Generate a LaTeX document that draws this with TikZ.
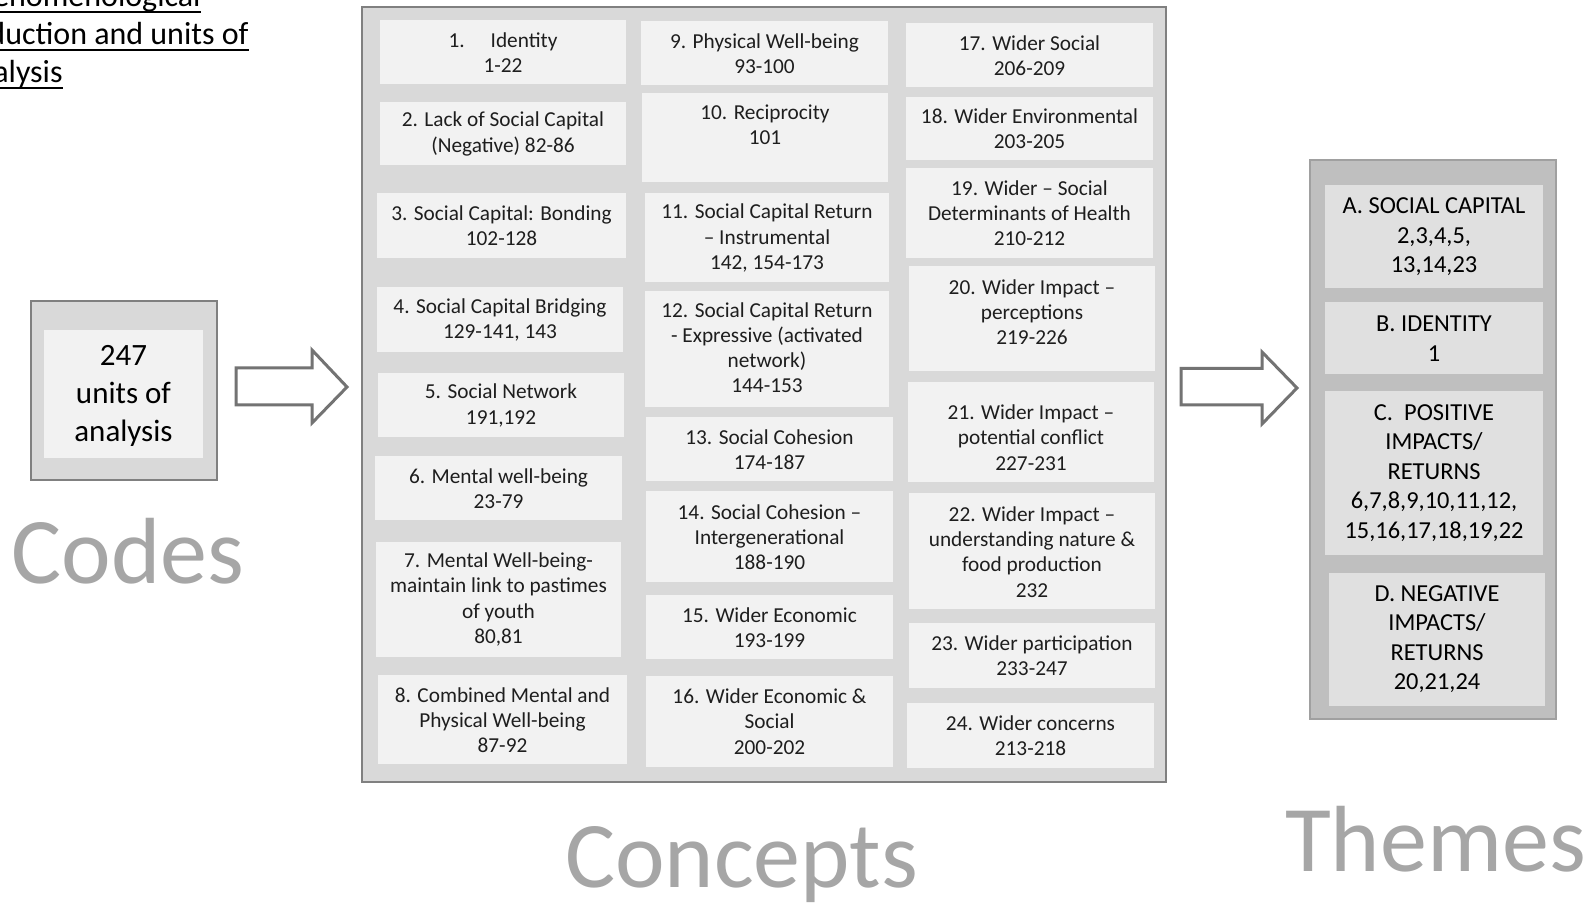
\documentclass[tikz,border=0pt]{standalone}
\usepackage{fontspec}
\setmainfont{Carlito}
\definecolor{outerfill}{HTML}{D9D9D9}
\definecolor{innerfill}{HTML}{F2F2F2}
\definecolor{boxline}{HTML}{808080}
\definecolor{themefill}{HTML}{BFBFBF}
\definecolor{themeinner}{HTML}{E0E0E0}
\definecolor{themeline}{HTML}{A0A0A0}
\definecolor{titlegray}{HTML}{A6A6A6}
\definecolor{arrowgray}{HTML}{737373}
\definecolor{textdark}{HTML}{1E1E1E}
\tikzset{
  cbox/.style={rectangle, fill=innerfill, inner sep=0pt},
  ctext/.style={align=center, inner sep=0pt, text=textdark, font=\fontsize{10.65}{12.6}\selectfont},
  tbox/.style={rectangle, fill=themeinner, inner sep=0pt},
  ttext/.style={align=center, inner sep=0pt, text=black, font=\fontsize{12.2}{14.75}\selectfont},
  conceptframe/.style={rectangle, fill=outerfill, draw=boxline, line width=0.75pt, inner sep=0pt},
  themeframe/.style={rectangle, fill=themefill, draw=themeline, line width=1pt, inner sep=0pt},
  codesframe/.style={rectangle, fill=outerfill, draw=boxline, line width=0.75pt, inner sep=0pt},
  codesinner/.style={rectangle, fill=innerfill, inner sep=0pt},
  bigtitle/.style={inner sep=0pt, text=titlegray, font=\fontsize{47}{56}\selectfont},
  headline/.style={inner sep=0pt, text=black, font=\fontsize{16}{19.5}\selectfont},
  uline/.style={line width=1pt, black},
  blockarrow/.style={draw=arrowgray, fill=white, line width=1.5pt, line join=miter}
}
% rectangle node from pixel corners
\newcommand\rectnode[6]{\node[#1, minimum width={(#5-#3)*0.5pt}, minimum height={(#6-#4)*0.5pt}] (#2) at ({(#3+#5)/2},{(#4+#6)/2}) {};}
% box with text: kind(c/t), name, x1,y1,x2,y2, ytext, text
\newcommand\txtbox[8]{\rectnode{#1box}{#2}{#3}{#4}{#5}{#6}\node[#1text] (#2-t) at ({(#3+#5)/2},#7) {#8};}
\begin{document}
\begin{tikzpicture}[x=0.5pt,y=-0.5pt]
\useasboundingbox (0,0) rectangle (1596,903);
\fill[white] (0,0) rectangle (1596,903);

% heading (cut at the left edge, as in the reference)
\begin{scope}
\clip (0,0) rectangle (1596,903);
\node[headline, anchor=base east] (h1) at (201,7) {Phenomenological};
\node[headline, anchor=base east] (h2) at (249,45) {reduction and units of};
\node[headline, anchor=base east] (h3) at (63,83) {analysis};
\draw[uline] ([yshift=-2.5pt]h1.base west) -- ([yshift=-2.5pt]h1.base east);
\draw[uline] ([yshift=-2.5pt]h2.base west) -- ([yshift=-2.5pt]h2.base east);
\draw[uline] ([yshift=-2.5pt]h3.base west) -- ([yshift=-2.5pt]h3.base east);
\end{scope}

% Codes
\rectnode{codesframe}{codes}{31}{301}{217}{480}
\rectnode{codesinner}{codesin}{44}{330}{203}{458}
\node[align=center, inner sep=0pt, text=black, font=\fontsize{15.5}{19}\selectfont] (codes-t) at (123.5,395.5) {247\\units of\\analysis};
\node[bigtitle, anchor=base] (codes-l) at (128,583) {Codes};

% block arrows
\draw[blockarrow] (236,368) -- (312,368) -- (312,350) -- (347,387) -- (312,423) -- (312,405) -- (236,405) -- cycle;
\draw[blockarrow] (1181,368.5) -- (1262,368.5) -- (1262,352) -- (1297,388) -- (1262,424) -- (1262,405) -- (1181,405) -- cycle;

% Concepts frame
\rectnode{conceptframe}{concepts}{362}{7}{1166}{782}
\node[bigtitle, anchor=base] (concepts-l) at (741.5,887) {Concepts};

% column 1
\txtbox{c}{c1}{380}{20}{626}{84}{53}{1.\hspace{13pt}Identity\\1-22}
\txtbox{c}{c2}{380}{102}{626}{165}{134}{2. Lack of Social Capital\\(Negative) 82-86}
\txtbox{c}{c3}{377}{193}{626}{258}{225.5}{3. Social Capital: Bonding\\102-128}
\txtbox{c}{c4}{377}{287}{623}{352}{320}{4. Social Capital Bridging\\129-141, 143}
\txtbox{c}{c5}{378}{373}{624}{437}{405.5}{5. Social Network\\191,192}
\txtbox{c}{c6}{375}{456}{622}{520}{488.5}{6. Mental well-being\\23-79}
\txtbox{c}{c7}{376}{542}{621}{657}{599.5}{7. Mental Well-being-\\maintain link to pastimes\\of youth\\80,81}
\txtbox{c}{c8}{378}{675}{627}{764}{720}{8. Combined Mental and\\Physical Well-being\\87-92}
% column 2
\txtbox{c}{c9}{641}{21}{888}{85}{54}{9. Physical Well-being\\93-100}
\txtbox{c}{c10}{642}{93}{888}{182}{125}{10. Reciprocity\\101}
\txtbox{c}{c11}{645}{193}{889}{282}{238}{11. Social Capital Return\\– Instrumental\\142, 154-173}
\txtbox{c}{c12}{645}{291}{889}{407}{347.5}{12. Social Capital Return\\- Expressive (activated\\network)\\144-153}
\txtbox{c}{c13}{646}{417}{893}{481}{449.5}{13. Social Cohesion\\174-187}
\txtbox{c}{c14}{646}{491}{893}{582}{537}{14. Social Cohesion –\\Intergenerational\\188-190}
\txtbox{c}{c15}{646}{595}{893}{659}{627.5}{15. Wider Economic\\193-199}
\txtbox{c}{c16}{646}{676}{893}{767}{721.5}{16. Wider Economic \&\\Social\\200-202}
% column 3
\txtbox{c}{c17}{906}{23}{1153}{87}{55.5}{17. Wider Social\\206-209}
\txtbox{c}{c18}{906}{97}{1153}{160}{128.5}{18. Wider Environmental\\203-205}
\txtbox{c}{c19}{906}{168}{1153}{258}{213}{19. Wider – Social\\Determinants of Health\\210-212}
\txtbox{c}{c20}{909}{266}{1155}{371}{312}{20. Wider Impact –\\perceptions\\219-226}
\txtbox{c}{c21}{908}{382}{1154}{482}{437.5}{21. Wider Impact –\\potential conflict\\227-231}
\txtbox{c}{c22}{909}{493}{1155}{609}{552}{22. Wider Impact –\\understanding nature \&\\food production\\232}
\txtbox{c}{c23}{909}{623}{1155}{688}{655.5}{23. Wider participation\\233-247}
\txtbox{c}{c24}{907}{703}{1154}{768}{735.5}{24. Wider concerns\\213-218}

% Themes
\rectnode{themeframe}{themes}{1310}{160}{1556}{718.5}
\txtbox{t}{tA}{1325}{185}{1543}{288}{237}{A. SOCIAL CAPITAL\\2,3,4,5,\\13,14,23}
\txtbox{t}{tB}{1325}{302}{1543}{374}{338.5}{B. IDENTITY\\1}
\txtbox{t}{tC}{1325}{391}{1543}{555}{473}{C.\ \ POSITIVE\\IMPACTS/\\RETURNS\\6,7,8,9,10,11,12,\\15,16,17,18,19,22}
\txtbox{t}{tD}{1329}{573}{1545}{706}{639}{D. NEGATIVE\\IMPACTS/\\RETURNS\\20,21,24}
\node[bigtitle, anchor=base] (themes-l) at (1435.5,871) {Themes};
\end{tikzpicture}
\end{document}
